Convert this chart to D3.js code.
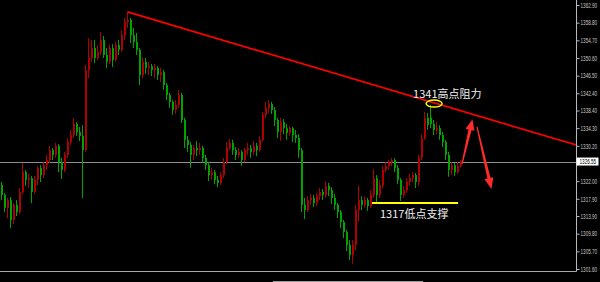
<!DOCTYPE html>
<html>
<head>
<meta charset="utf-8">
<script src="https://cdn.jsdelivr.net/npm/d3@7"></script>
<style>
  html, body { margin: 0; padding: 0; background: #000; }
  svg { display: block; }
</style>
</head>
<body>
<svg></svg>
<script>
// candles (bar index -> price)
let opens = [
1321.1,1318.8,1315.8,1317.6,1313.0,1316.5,1314.8,1319.5,1324.1,1322.3,
1322.7,1319.5,1322.3,1325.1,1323.4,1325.7,1326.9,1329.2,1328.1,1330.2,
1326.4,1324.6,1328.1,1331.1,1332.7,1335.3,1333.4,1332.5,1329.2,1347.8,
1350.6,1352.9,1350.6,1352.0,1354.8,1351.3,1349.7,1352.9,1350.1,1353.6,
1352.5,1355.9,1359.0,1359.4,1355.9,1354.3,1352.5,1346.6,1349.7,1348.3,
1348.7,1347.8,1348.3,1346.6,1347.3,1344.3,1342.0,1340.4,1338.5,1339.7,
1342.0,1336.2,1331.6,1330.4,1328.1,1329.7,1329.2,1329.7,1327.4,1325.7,
1323.4,1324.1,1322.3,1321.6,1323.4,1326.4,1329.7,1330.9,1329.2,1328.1,
1328.8,1326.9,1329.2,1329.7,1328.8,1330.2,1329.2,1331.6,1337.4,1339.0,
1339.9,1338.5,1336.2,1333.4,1335.7,1334.3,1333.2,1334.3,1332.7,1332.0,
1329.2,1316.5,1315.3,1317.6,1318.1,1316.9,1318.5,1319.5,1318.8,1320.9,
1319.9,1318.1,1316.5,1314.8,1312.5,1310.2,1307.2,1304.8,1307.2,1315.3,
1317.6,1316.5,1317.6,1316.2,1318.8,1322.7,1318.8,1321.1,1324.6,1325.5,
1326.4,1326.9,1325.1,1322.3,1318.8,1319.9,1321.8,1322.7,1323.4,1321.8,
1327.4,1332.0,1336.7,1336.7,1335.3,1333.9,1334.3,1332.7,1331.1,1328.1,
1324.6,1325.7,1324.1,1325.5
];
let highs = [
1321.8,1319.2,1318.1,1318.3,1316.9,1317.6,1320.4,1326.2,1324.6,1323.7,
1323.2,1323.2,1325.5,1325.7,1326.4,1328.1,1330.2,1329.7,1330.9,1330.6,
1327.4,1328.8,1332.0,1333.9,1336.7,1335.7,1334.6,1335.0,1349.0,1355.2,
1354.8,1354.8,1353.6,1356.6,1355.7,1352.9,1353.6,1353.8,1354.3,1354.8,
1357.1,1359.9,1361.3,1359.9,1357.6,1356.4,1352.9,1350.8,1350.6,1349.7,
1349.2,1349.2,1348.7,1348.3,1347.8,1344.8,1342.5,1340.8,1340.8,1343.2,
1342.5,1336.7,1332.5,1331.1,1330.4,1331.3,1330.9,1330.2,1328.1,1326.4,
1325.1,1324.6,1323.2,1324.1,1327.4,1331.1,1331.8,1331.6,1329.9,1329.7,
1329.2,1329.7,1330.9,1330.4,1331.3,1330.9,1332.5,1338.1,1340.4,1340.8,
1340.4,1339.2,1336.7,1336.7,1336.4,1335.3,1334.8,1334.6,1333.9,1332.9,
1329.7,1318.1,1318.5,1319.0,1318.8,1319.2,1320.4,1320.2,1322.0,1321.6,
1320.6,1319.0,1316.9,1315.3,1313.0,1310.7,1308.3,1308.3,1316.5,1320.9,
1318.5,1318.5,1318.1,1319.9,1324.8,1323.4,1322.3,1325.5,1326.4,1326.9,
1327.4,1327.4,1325.7,1322.7,1320.9,1322.7,1323.7,1324.1,1323.9,1328.1,
1332.9,1338.1,1337.8,1339.7,1336.2,1335.7,1335.0,1333.4,1331.6,1328.8,
1326.4,1326.2,1326.4,1326.9
];
let lows = [
1317.6,1314.8,1313.4,1311.1,1312.0,1313.9,1314.4,1319.0,1320.9,1320.4,
1316.9,1319.0,1321.1,1321.8,1322.7,1324.6,1326.2,1326.9,1327.4,1324.1,
1322.5,1324.1,1327.4,1330.4,1332.0,1332.5,1331.3,1318.1,1328.8,1345.9,
1349.7,1349.4,1350.1,1351.3,1350.6,1348.3,1349.2,1348.5,1349.7,1351.3,
1352.0,1354.8,1357.6,1354.1,1352.9,1351.3,1344.3,1345.9,1346.9,1346.6,
1346.4,1345.9,1345.5,1345.0,1343.2,1340.8,1339.0,1337.4,1337.6,1339.0,
1335.5,1329.7,1328.8,1325.1,1326.9,1327.8,1328.1,1326.2,1324.6,1322.0,
1322.3,1321.3,1320.6,1321.1,1322.7,1326.0,1329.2,1328.1,1326.9,1327.4,
1325.5,1326.4,1328.1,1327.4,1328.1,1327.8,1328.8,1331.1,1336.7,1337.8,
1337.6,1334.8,1332.0,1331.3,1332.9,1331.6,1332.5,1331.1,1330.9,1327.4,
1314.8,1313.2,1314.8,1316.5,1316.0,1316.2,1317.6,1317.6,1318.1,1318.5,
1316.7,1315.3,1313.4,1311.1,1308.8,1305.8,1303.7,1302.8,1306.0,1312.7,
1315.3,1315.8,1315.1,1315.8,1318.1,1316.9,1318.1,1320.4,1324.1,1324.6,
1325.5,1324.1,1321.3,1317.4,1318.1,1319.2,1320.9,1321.8,1320.4,1320.9,
1326.9,1331.6,1333.9,1334.3,1332.7,1332.9,1331.6,1329.9,1326.9,1323.0,
1323.4,1323.2,1323.7,1325.1
];
let closes = [
1318.8,1315.8,1317.6,1313.0,1316.5,1314.8,1319.5,1324.1,1322.3,1322.7,
1319.5,1322.3,1325.1,1323.4,1325.7,1326.9,1329.2,1328.1,1330.2,1326.4,
1324.6,1328.1,1331.1,1332.7,1335.3,1333.4,1332.5,1329.2,1347.8,1350.6,
1352.9,1350.6,1352.0,1354.8,1351.3,1349.7,1352.9,1350.1,1353.6,1352.5,
1355.9,1359.0,1359.4,1355.9,1354.3,1352.5,1346.6,1349.7,1348.3,1348.7,
1347.8,1348.3,1346.6,1347.3,1344.3,1342.0,1340.4,1338.5,1339.7,1342.0,
1336.2,1331.6,1330.4,1328.1,1329.7,1329.2,1329.7,1327.4,1325.7,1323.4,
1324.1,1322.3,1321.6,1323.4,1326.4,1329.7,1330.9,1329.2,1328.1,1328.8,
1326.9,1329.2,1329.7,1328.8,1330.2,1329.2,1331.6,1337.4,1339.0,1339.9,
1338.5,1336.2,1333.4,1335.7,1334.3,1333.2,1334.3,1332.7,1332.0,1329.2,
1316.5,1315.3,1317.6,1318.1,1316.9,1318.5,1319.5,1318.8,1320.9,1319.9,
1318.1,1316.5,1314.8,1312.5,1310.2,1307.2,1304.8,1307.2,1315.3,1317.6,
1316.5,1317.6,1316.2,1318.8,1322.7,1318.8,1321.1,1324.6,1325.5,1326.4,
1326.9,1325.1,1322.3,1318.8,1319.9,1321.8,1322.7,1323.4,1321.8,1327.4,
1332.0,1336.7,1335.0,1335.3,1333.9,1334.3,1332.7,1331.1,1328.1,1324.6,
1325.7,1324.1,1325.5,1326.55
];

// price scale labels on the right
let tickValues = [1362.9, 1358.8, 1354.7, 1350.6, 1346.5, 1342.4, 1338.4, 1334.3,
                  1330.2, 1322.0, 1317.9, 1313.9, 1309.8, 1305.7, 1301.6];
let tickLabels = ["1362.90", "1358.80", "1354.70", "1350.60", "1346.50", "1342.40", "1338.40", "1334.30",
                  "1330.20", "1322.00", "1317.90", "1313.90", "1309.80", "1305.70", "1301.60"];

// drawn objects (bar index, price)
let trendIdx = [42, 191.5];
let trendPrice = [1361.3, 1330.4];
let supportIdx = [123.5, 152.2];
let supportPrice = 1316.9;
let resistIdx = 144.2;
let resistPrice = 1340.0;
let resistText = "1341高点阻力";
let supportText = "1317低点支撑";
let arrowsIdx = [[153.5, 157.0], [158.5, 163.3]];
let arrowsPrice = [[1326.0, 1336.4], [1334.6, 1320.2]];

let width = 600;
let height = 282;
let plotW = 576;
let plotH = 271;

let svg = d3.select("svg")
    .attr("width", width)
    .attr("height", height)
    .style("background", "#000");

let x = d3.scaleLinear().domain([0, 192]).range([1.5, 577.5]);
let y = d3.scaleLinear().domain([1301.6, 1362.9]).range([269, 5]);

svg.append("clipPath").attr("id", "plot")
    .append("rect").attr("width", plotW).attr("height", plotH);

let plot = svg.append("g").attr("clip-path", "url(#plot)");

// current price line
let last = closes[closes.length - 1];
plot.append("line")
    .attr("x1", 0).attr("x2", plotW)
    .attr("y1", Math.round(y(last)) + 0.5).attr("y2", Math.round(y(last)) + 0.5)
    .attr("stroke", "#8a8f96").attr("stroke-width", 1);

let bars = d3.range(closes.length).map(function(i) {
    return { i: i, o: opens[i], h: highs[i], l: lows[i], c: closes[i] };
});

let upColor = "#b00000";
let downColor = "#00a400";

let candle = plot.append("g").attr("class", "candles")
    .selectAll("g")
    .data(bars)
    .enter().append("g");

candle.append("line")
    .attr("x1", function(d) { return x(d.i); })
    .attr("x2", function(d) { return x(d.i); })
    .attr("y1", function(d) { return y(d.h); })
    .attr("y2", function(d) { return y(d.l); })
    .attr("stroke", function(d) { return d.c >= d.o ? upColor : downColor; })
    .attr("stroke-width", 1);

candle.append("rect")
    .attr("x", function(d) { return Math.round(x(d.i) - 1); })
    .attr("width", 2)
    .attr("y", function(d) { return y(Math.max(d.o, d.c)); })
    .attr("height", function(d) { return Math.max(1, Math.abs(y(d.o) - y(d.c))); })
    .attr("fill", function(d) { return d.c >= d.o ? upColor : downColor; });

// trend line from the top, runs off the right edge
let slope = (trendPrice[1] - trendPrice[0]) / (trendIdx[1] - trendIdx[0]);
plot.append("line")
    .attr("x1", x(trendIdx[0])).attr("y1", y(trendPrice[0]))
    .attr("x2", x(200)).attr("y2", y(trendPrice[0] + slope * (200 - trendIdx[0])))
    .attr("stroke", "#ff0000").attr("stroke-width", 1.7);

// support line + label
plot.append("line")
    .attr("x1", x(supportIdx[0])).attr("x2", x(supportIdx[1]))
    .attr("y1", y(supportPrice)).attr("y2", y(supportPrice))
    .attr("stroke", "#ffff00").attr("stroke-width", 2);

plot.append("text")
    .attr("x", x(supportIdx[0]) + 8)
    .attr("y", y(supportPrice) + 15)
    .attr("fill", "#f0f0f0")
    .style("font-family", "'Noto Sans CJK SC', 'Noto Sans', sans-serif")
    .style("font-size", "11px")
    .text(supportText);

// resistance ellipse + label
plot.append("ellipse")
    .attr("cx", x(resistIdx)).attr("cy", y(resistPrice))
    .attr("rx", 8).attr("ry", 3.5)
    .attr("fill", "none").attr("stroke", "#ffff00").attr("stroke-width", 1.5);

plot.append("text")
    .attr("x", x(resistIdx) - 21)
    .attr("y", y(resistPrice) - 6)
    .attr("fill", "#f0f0f0")
    .style("font-family", "'Noto Sans CJK SC', 'Noto Sans', sans-serif")
    .style("font-size", "11px")
    .text(resistText);

// red arrows
function arrowPoints(x1, y1, x2, y2) {
    let dx = x2 - x1, dy = y2 - y1;
    let len = Math.sqrt(dx * dx + dy * dy);
    let ux = dx / len, uy = dy / len;
    let nx = -uy, ny = ux;
    let headLen = 11, headW = 4.5;
    let bx = x2 - ux * headLen, by = y2 - uy * headLen;
    let pts = [
        [x1 + nx * 0.6, y1 + ny * 0.6],
        [bx + nx * 1.6, by + ny * 1.6],
        [bx + nx * headW, by + ny * headW],
        [x2, y2],
        [bx - nx * headW, by - ny * headW],
        [bx - nx * 1.6, by - ny * 1.6],
        [x1 - nx * 0.6, y1 - ny * 0.6]
    ];
    return pts.map(function(p) { return p.join(","); }).join(" ");
}

arrowsIdx.forEach(function(a, k) {
    plot.append("polygon")
        .attr("points", arrowPoints(x(a[0]), y(arrowsPrice[k][0]), x(a[1]), y(arrowsPrice[k][1])))
        .attr("fill", "#ff2a2a");
});

// frame: bottom line and price axis
svg.append("line")
    .attr("x1", 0).attr("x2", plotW + 0.5)
    .attr("y1", plotH + 0.5).attr("y2", plotH + 0.5)
    .attr("stroke", "#a8a8a8");
svg.append("line")
    .attr("x1", plotW + 0.5).attr("x2", plotW + 0.5)
    .attr("y1", 0).attr("y2", plotH + 0.5)
    .attr("stroke", "#b8b8b8");
svg.append("line")
    .attr("x1", 273).attr("x2", 423)
    .attr("y1", 281.5).attr("y2", 281.5)
    .attr("stroke", "#9a9a9a");

let axis = d3.axisRight(y)
    .tickValues(tickValues)
    .tickFormat(function(d, i) { return tickLabels[i]; })
    .tickSize(3)
    .tickSizeOuter(0)
    .tickPadding(1);

let ax = svg.append("g")
    .attr("transform", "translate(" + (plotW + 0.5) + ",0)")
    .call(axis);
ax.select(".domain").remove();
ax.selectAll(".tick line").attr("stroke", "#b8b8b8");
// squeeze the labels horizontally, the terminal font is narrow
ax.selectAll(".tick text")
    .attr("x", 0)
    .attr("transform", "translate(4,0) scale(0.66,1)")
    .attr("fill", "#c8c8c8")
    .style("font-family", "'Liberation Sans', Arial, sans-serif")
    .style("font-size", "7px");

// current price tag
let tag = svg.append("g").attr("transform", "translate(" + (plotW + 0.5) + "," + y(last) + ")");
tag.append("rect")
    .attr("x", 0).attr("y", -4).attr("width", 22).attr("height", 8)
    .attr("fill", "#fff");
tag.append("text")
    .attr("x", 0).attr("y", 0).attr("dy", "0.35em")
    .attr("transform", "translate(3,0) scale(0.66,1)")
    .attr("fill", "#000")
    .style("font-family", "'Liberation Sans', Arial, sans-serif")
    .style("font-size", "7px")
    .text(last.toFixed(2));
</script>
</body>
</html>
